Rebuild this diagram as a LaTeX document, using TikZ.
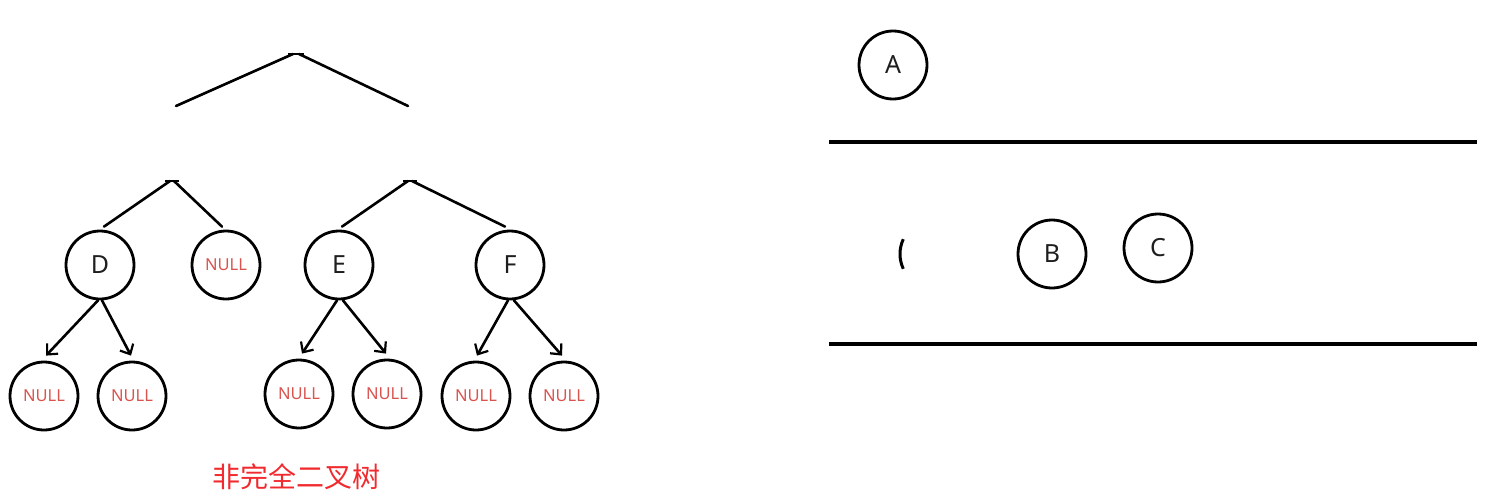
\documentclass[tikz,border=0pt]{standalone}
\usepackage{fontspec}
\setmainfont{Noto Sans}
\newfontfamily\cjk{Noto Sans CJK SC}
\usetikzlibrary{arrows.meta}
\definecolor{nullred}{HTML}{D9534F}
\definecolor{labred}{HTML}{F02A2E}
\definecolor{ink}{HTML}{1E1E1E}
\begin{document}
\begin{tikzpicture}[x=1pt,y=-1pt,
  circ/.style={circle, draw=black, line width=2.8pt, minimum size=68pt, inner sep=0pt,
    font=\fontsize{25}{25}\selectfont, text=ink},
  nul/.style={circ, font=\fontsize{16.5}{16.5}\selectfont, text=nullred},
  edge/.style={line width=2.6pt, line cap=round},
  arr/.style={edge, -{Straight Barb[length=8pt,width=15pt,line width=2.2pt]}},
  bar/.style={line width=4pt}]
\useasboundingbox (0,0) rectangle (1498,503);
% left tree
\coordinate (r0) at (296,54);
\coordinate (rl) at (176,106);
\coordinate (rr) at (408,106);
\draw[edge] (rl) -- ([xshift=-3]r0);
\draw[edge] ([xshift=3]r0) -- (rr);
\draw[line width=1.6pt] ([xshift=-8]r0) -- ([xshift=8]r0);
\coordinate (p1) at (172,181);
\coordinate (p2) at (410,181);
\draw[line width=1.6pt] ([xshift=-7]p1) -- ([xshift=7]p1);
\draw[line width=1.6pt] ([xshift=-7]p2) -- ([xshift=7]p2);
\node[circ] (D) at (100,265) {D};
\node[nul] (N0) at (226,265) {NULL};
\node[circ] (E) at (339,265) {E};
\node[circ] (F) at (510,265) {F};
\node[nul] (N1) at (44,396) {NULL};
\node[nul] (N2) at (132,396) {NULL};
\node[nul] (N3) at (299,394) {NULL};
\node[nul] (N4) at (387,394) {NULL};
\node[nul] (N5) at (476,396) {NULL};
\node[nul] (N6) at (564,396) {NULL};
\draw[edge] ([xshift=-2]p1) -- ([shift={(4,-3)}]D.north);
\draw[edge] ([xshift=2]p1) -- ([shift={(-4,-3)}]N0.north);
\draw[edge] ([xshift=-2]p2) -- ([shift={(3,-3)}]E.north);
\draw[edge] ([xshift=2]p2) -- ([shift={(-5,-3)}]F.north);
\draw[arr] ([xshift=-2]D.south) -- ([shift={(2,-5)}]N1.north);
\draw[arr] ([xshift=2]D.south) -- ([shift={(-1,-5)}]N2.north);
\draw[arr] ([xshift=-2]E.south) -- ([shift={(3,-5)}]N3.north);
\draw[arr] ([xshift=4]E.south) -- ([shift={(-1,-5)}]N4.north);
\draw[arr] ([xshift=-2]F.south) -- ([shift={(1,-5)}]N5.north);
\draw[arr] ([xshift=4]F.south) -- ([shift={(-2,-5)}]N6.north);
\node[text=labred, font=\cjk\fontsize{28}{28}\selectfont] (cap) at (296,477) {非完全二叉树};
% right panel
\node[circ] (A) at (893,65) {A};
\coordinate (b1l) at (829,142);
\coordinate (b1r) at (1477,142);
\coordinate (b2l) at (829,344);
\coordinate (b2r) at (1477,344);
\draw[bar] (b1l) -- (b1r);
\draw[bar] (b2l) -- (b2r);
\draw[line width=3pt] (935,254) ++(155:35) arc[start angle=155, end angle=205, radius=35];
\node[circ] (B) at (1052,254) {B};
\node[circ] (C) at (1158,248) {C};
\end{tikzpicture}
\end{document}
